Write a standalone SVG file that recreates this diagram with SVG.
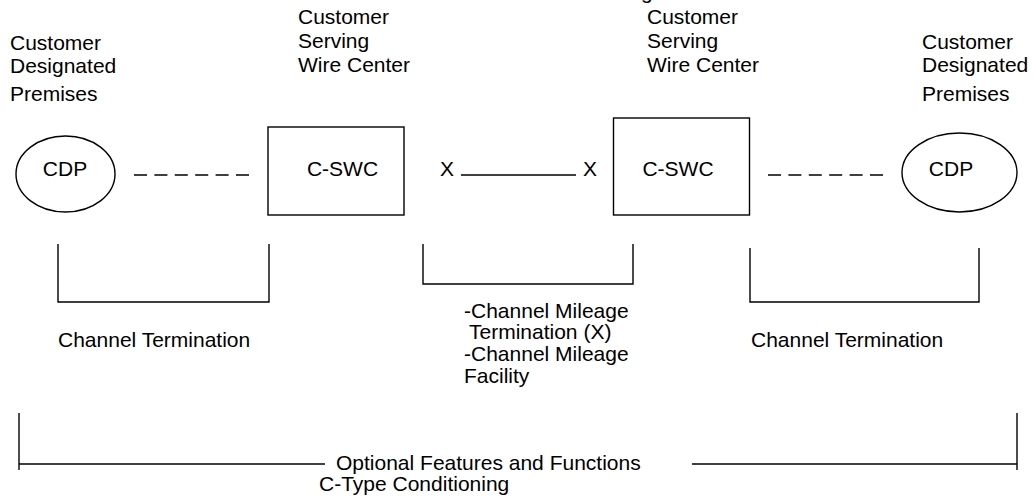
<svg xmlns="http://www.w3.org/2000/svg" width="1034" height="501" viewBox="0 0 1034 501">
<style>
text{font-family:"Liberation Sans",Arial,sans-serif;font-size:21px;fill:#000}
.s{fill:none;stroke:#000;stroke-width:1.4}
.d{fill:none;stroke:#000;stroke-width:1.4;stroke-dasharray:13 7.4}
.m{text-anchor:middle}
</style>
<rect width="1034" height="501" fill="#fff"/>
<text x="641" y="-1">g</text>
<g id="label-cdp-left">
<text x="10" y="50">Customer</text>
<text x="10" y="73">Designated</text>
<text x="10" y="101">Premises</text>
</g>
<g id="label-cswc-left">
<text x="298" y="24">Customer</text>
<text x="298" y="48">Serving</text>
<text x="298" y="72">Wire Center</text>
</g>
<g id="label-cswc-right">
<text x="647" y="24">Customer</text>
<text x="647" y="48">Serving</text>
<text x="647" y="72">Wire Center</text>
</g>
<g id="label-cdp-right">
<text x="922" y="49">Customer</text>
<text x="922" y="72">Designated</text>
<text x="922" y="101">Premises</text>
</g>
<g id="cdp-left">
<ellipse class="s" cx="65.5" cy="174" rx="49.5" ry="38"/>
<text class="m" x="65" y="176">CDP</text>
</g>
<g id="cswc-left">
<rect class="s" x="268" y="127" width="136" height="88"/>
<text class="m" x="342.5" y="176">C-SWC</text>
</g>
<g id="cswc-right">
<rect class="s" x="613.5" y="118" width="136" height="97"/>
<text class="m" x="678" y="176">C-SWC</text>
</g>
<g id="cdp-right">
<ellipse class="s" cx="959.5" cy="172.5" rx="57.5" ry="39.5"/>
<text class="m" x="951" y="176">CDP</text>
</g>
<g id="connectors">
<line class="d" x1="134" y1="175" x2="249" y2="175"/>
<line class="d" x1="768" y1="175" x2="883" y2="175"/>
<line class="s" x1="461" y1="175" x2="576" y2="175"/>
<polyline class="s" points="58,244 58,302 269,302 269,244"/>
<polyline class="s" points="423,244 423,284 633,284 633,244"/>
<polyline class="s" points="750,248 750,302 979,302 979,248"/>
<polyline class="s" points="19,413 19,470"/>
<polyline class="s" points="19,464 325,464"/>
<polyline class="s" points="692,464 1017,464"/>
<polyline class="s" points="1017,413 1017,470"/>
</g>
<g id="x-marks">
<text x="440" y="176">X</text>
<text x="583" y="176">X</text>
</g>
<g id="labels">
<text x="58" y="347">Channel Termination</text>
<text x="751" y="347">Channel Termination</text>
<text x="464" y="318">-Channel Mileage</text>
<text x="469" y="339">Termination (X)</text>
<text x="464" y="361">-Channel Mileage</text>
<text x="464" y="383">Facility</text>
<text x="336" y="470">Optional Features and Functions</text>
<text x="319" y="491">C-Type Conditioning</text>
</g>
</svg>
